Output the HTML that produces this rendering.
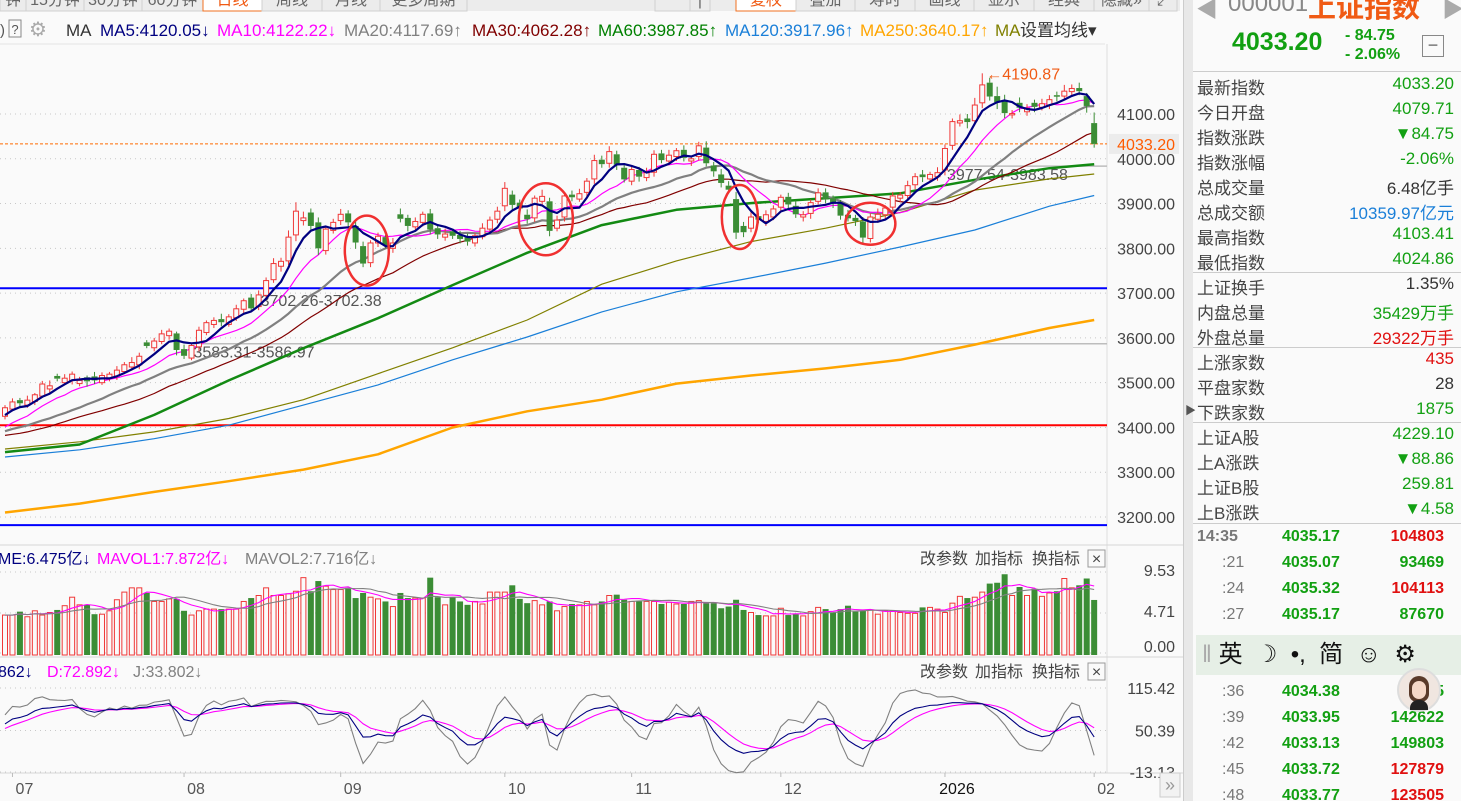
<!DOCTYPE html>
<html><head><meta charset="utf-8">
<style>
html,body{margin:0;padding:0;background:#fafafa;width:1461px;height:801px;overflow:hidden;font-family:"Liberation Sans","Noto Sans CJK SC",sans-serif;}
#root{position:relative;width:1461px;height:801px;}
svg{position:absolute;left:0;top:0;}
.rp{position:absolute;left:1192px;top:0;width:269px;height:801px;background:#fafafa;}
.row{position:absolute;left:5px;width:257px;height:24px;font-size:17px;color:#444;}
.row .v{position:absolute;right:0;top:0;}
.sep{position:absolute;left:0;width:269px;height:1px;background:#ccc;}
.tk{position:absolute;left:5px;width:255px;height:25px;font-size:16px;font-weight:bold;}
.tk .t{position:absolute;left:0;color:#777;font-weight:normal;}
.tk .p{position:absolute;left:85px;color:#12a012;}
.tk .q{position:absolute;right:8px;}
</style></head>
<body><div id="root">
<svg id="chart" width="1190" height="801"></svg>

<div class="rp">
  <div style="position:absolute;left:4px;top:-8px;font-size:22px;color:#aaa">◀</div>
  <div style="position:absolute;left:36px;top:-10px;font-size:24px;color:#888">000001</div>
  <div style="position:absolute;left:116px;top:-14px;font-size:28px;font-weight:bold;color:#f05a14">上证指数</div>
  <div style="position:absolute;left:250px;top:-8px;font-size:22px;color:#aaa">▶</div>
  <div style="position:absolute;left:40px;top:28px;font-size:25px;font-weight:bold;color:#12a012">4033.20</div>
  <div style="position:absolute;left:153px;top:26px;font-size:16px;font-weight:bold;color:#12a012;line-height:19px">- 84.75<br>- 2.06%</div>
  <div style="position:absolute;left:230px;top:35px;width:20px;height:20px;border:1px solid #888;text-align:center;line-height:18px;color:#666;font-size:18px">−</div>
  <div class="sep" style="top:71px"></div>
  <div class="row" style="top:74px">最新指数<span class="v" style="color:#12a012">4033.20</span></div>
  <div class="row" style="top:99px">今日开盘<span class="v" style="color:#12a012">4079.71</span></div>
  <div class="row" style="top:124px">指数涨跌<span class="v" style="color:#12a012">▼84.75</span></div>
  <div class="row" style="top:149px">指数涨幅<span class="v" style="color:#12a012">-2.06%</span></div>
  <div class="row" style="top:174px">总成交量<span class="v" style="color:#333">6.48亿手</span></div>
  <div class="row" style="top:199px">总成交额<span class="v" style="color:#1a7fd8">10359.97亿元</span></div>
  <div class="row" style="top:224px">最高指数<span class="v" style="color:#12a012">4103.41</span></div>
  <div class="row" style="top:249px">最低指数<span class="v" style="color:#12a012">4024.86</span></div>
  <div class="sep" style="top:272px"></div>
  <div class="row" style="top:274px">上证换手<span class="v" style="color:#333">1.35%</span></div>
  <div class="row" style="top:299px">内盘总量<span class="v" style="color:#12a012">35429万手</span></div>
  <div class="row" style="top:324px">外盘总量<span class="v" style="color:#e01010">29322万手</span></div>
  <div class="sep" style="top:347px"></div>
  <div class="row" style="top:349px">上涨家数<span class="v" style="color:#e01010">435</span></div>
  <div class="row" style="top:374px">平盘家数<span class="v" style="color:#333">28</span></div>
  <div class="row" style="top:399px">下跌家数<span class="v" style="color:#12a012">1875</span></div>
  <div class="sep" style="top:422px"></div>
  <div class="row" style="top:424px">上证A股<span class="v" style="color:#12a012">4229.10</span></div>
  <div class="row" style="top:449px">上A涨跌<span class="v" style="color:#12a012">▼88.86</span></div>
  <div class="row" style="top:474px">上证B股<span class="v" style="color:#12a012">259.81</span></div>
  <div class="row" style="top:499px">上B涨跌<span class="v" style="color:#12a012">▼4.58</span></div>
  <div class="sep" style="top:523px"></div>
  <div class="tk" style="top:528px"><span class="t" style="font-weight:bold">14:35</span><span class="p">4035.17</span><span class="q" style="color:#e01010">104803</span></div>
  <div class="tk" style="top:554px"><span class="t" style="left:25px">:21</span><span class="p">4035.07</span><span class="q" style="color:#12a012">93469</span></div>
  <div class="tk" style="top:580px"><span class="t" style="left:25px">:24</span><span class="p">4035.32</span><span class="q" style="color:#e01010">104113</span></div>
  <div class="tk" style="top:606px"><span class="t" style="left:25px">:27</span><span class="p">4035.17</span><span class="q" style="color:#12a012">87670</span></div>
  <div class="tk" style="top:683px"><span class="t" style="left:25px">:36</span><span class="p">4034.38</span><span class="q" style="color:#12a012">5</span></div>
  <div class="tk" style="top:709px"><span class="t" style="left:25px">:39</span><span class="p">4033.95</span><span class="q" style="color:#12a012">142622</span></div>
  <div class="tk" style="top:735px"><span class="t" style="left:25px">:42</span><span class="p">4033.13</span><span class="q" style="color:#12a012">149803</span></div>
  <div class="tk" style="top:761px"><span class="t" style="left:25px">:45</span><span class="p">4033.72</span><span class="q" style="color:#e01010">127879</span></div>
  <div class="tk" style="top:787px"><span class="t" style="left:25px">:48</span><span class="p">4033.77</span><span class="q" style="color:#e01010">123505</span></div>
  <div style="position:absolute;left:4px;top:635px;width:265px;height:40px;background:#e6efe6;font-size:24px;color:#111;line-height:40px;white-space:nowrap"><span style="color:#aaa;margin-left:6px">‖</span> 英 &nbsp;☽ &nbsp;•, &nbsp;简 &nbsp;☺ &nbsp;⚙</div>
  <div style="position:absolute;left:205px;top:668px;width:40px;height:40px;border-radius:50%;background:#f0e6e0;border:2px solid #ddd"><div style="position:absolute;left:10px;top:6px;width:20px;height:26px;border-radius:10px 10px 8px 8px;background:#5a3a2a"></div><div style="position:absolute;left:13px;top:11px;width:14px;height:18px;border-radius:7px;background:#f6d8c8"></div><div style="position:absolute;left:11px;top:30px;width:18px;height:10px;border-radius:8px 8px 0 0;background:#222"></div></div>
</div>
<div style="position:absolute;left:1183px;top:0;width:9px;height:801px;background:#e8e8e8;border-left:1px solid #ccc"><div style="position:absolute;left:1px;top:402px;font-size:11px;color:#555">▶</div></div>

<script>
// ---- data ----
const preCloses = [3380,3390,3370,3348,3380,3361,3347,3363,3347,3348,3357,3376,3381,3361,3385,3402,3384,3402,3388,3388,3362,3377,3388,3359,3386,3402,3420,3448,3424];
const closes = [3444,3457,3454,3461,3473,3497,3493,3509,3510,3519,
3505,3503,3505,3516,3519,3528,3540,3545,3559,3582,
3593,3609,3615,3573,3560,3583,3617,3634,3639,3635,
3647,3665,3683,3666,3696,3728,3766,3771,3825,3883,
3868,3850,3800,3843,3858,3876,3858,3813,3766,3812,
3827,3807,3812,3866,3850,3860,3876,3842,3831,3832,
3828,3821,3815,3828,3845,3863,3883,3934,3897,3889,
3865,3912,3916,3839,3863,3917,3914,3922,3950,3996,
3988,4016,3987,3954,3976,3960,3969,4010,3997,4008,
4018,4002,4000,4029,3990,3972,3946,3931,3835,3836,
3870,3864,3875,3888,3914,3898,3876,3875,3902,3924,
3909,3900,3873,3867,3861,3824,3870,3876,3890,3917,
3919,3940,3960,3959,3965,3969,4023,4083,4085,4082,
4120,4165,4139,4126,4102,4101,4114,4113,4116,4123,
4132,4139,4151,4157,4151,4118,4033.2];
const opens = [3425,3441,3461,3450,3458,3470,3486,3515,3500,3505,
3498,3512,3514,3500,3510,3515,3525,3535,3540,3590,
3578,3592,3605,3610,3575,3555,3580,3612,3630,3642,
3630,3645,3664,3690,3670,3695,3730,3760,3772,3830,
3862,3880,3858,3795,3840,3862,3878,3850,3805,3768,
3812,3825,3800,3876,3868,3848,3858,3878,3845,3825,
3838,3830,3826,3812,3826,3843,3865,3895,3920,3902,
3875,3868,3905,3905,3845,3870,3920,3910,3925,3955,
3998,3990,4010,3980,3950,3975,3958,3970,4012,3995,
4005,4020,3995,4005,4025,3985,3965,3940,3910,3850,
3845,3872,3860,3870,3892,3915,3895,3870,3878,3905,
3925,3912,3900,3875,3868,3860,3822,3865,3875,3892,
3912,3918,3942,3965,3955,3960,3975,4030,4080,4090,
4085,4125,4170,4140,4130,4098,4125,4105,4125,4115,
4120,4142,4140,4150,4158,4140,4079.71];
const wickUp = [6,8,5,10,4,7,12,5,9,6, 8,4,10,7,5,9,6,12,8,5, 7,9,6,4,10,6,8,5,7,12, 6,9,5,8,10,7,12,8,15,20,
14,9,11,6,8,12,7,9,10,6, 8,5,11,13,7,9,6,10,8,12, 5,9,7,6,11,8,10,14,9,7, 12,6,15,8,10,6,9,11,7,13,
9,12,8,6,10,7,11,9,8,12, 6,10,7,9,14,8,12,10,16,9, 11,7,10,8,6,9,12,8,7,10, 9,6,8,11,7,10,8,13,6,9,
7,11,8,10,6,12,9,7,14,10, 16,25.87,11,21,13,8,12,9,7,11, 10,8,14,9,12,7,23.7];
const wickDn = [7,5,9,6,8,4,10,6,5,9, 6,12,8,5,7,9,6,8,10,5, 8,6,9,12,7,5,10,6,8,9, 5,7,9,6,8,10,7,12,9,14,
11,8,15,9,7,10,12,14,8,10, 9,7,10,8,12,6,9,11,10,8, 7,10,9,8,6,11,9,12,10,8, 10,9,8,12,7,10,9,6,8,11,
8,10,12,7,9,11,8,10,7,9, 10,8,11,9,7,12,10,8,14,11, 9,8,10,7,11,9,8,10,12,7, 8,10,9,7,11,13,9,8,10,7,
9,8,10,11,7,9,12,10,8,14, 10,12,9,15,11,8,10,9,12,7, 9,11,8,10,9,15,8.35];
const volumes = [4.7,4.7,5.1,4.5,5.2,4.7,5.0,5.3,5.8,6.8, 5.9,5.9,4.8,4.8,5.2,6.5,7.4,7.9,7.9,7.3,
6.3,6.3,6.6,6.6,5.2,4.7,5.2,5.4,5.4,5.4, 5.4,5.4,6.3,6.7,7.0,7.9,7.0,7.0,7.2,7.5,
9.1,7.5,8.7,8.1,7.7,7.7,7.9,6.7,7.3,6.8, 6.6,6.3,5.7,7.3,6.7,6.7,6.7,9.1,6.8,5.9,
6.8,6.3,5.9,6.3,6.0,7.4,7.4,7.4,8.2,6.6, 6.1,6.4,5.9,6.3,5.2,5.7,6.0,5.9,6.3,5.9,
6.3,7.0,7.1,6.5,6.3,6.3,6.3,6.3,6.0,6.2, 6.0,6.0,6.3,6.4,6.1,6.1,5.5,5.7,6.5,5.3,
5.0,4.7,4.6,4.6,5.5,4.7,4.8,4.6,5.1,5.6, 5.4,5.0,5.4,5.8,5.1,5.2,5.3,4.8,5.2,5.2,
5.0,4.9,4.9,5.6,5.6,5.4,5.0,6.1,6.9,6.7, 6.8,7.4,8.4,8.5,9.5,7.0,8.0,7.0,7.8,6.9,
7.3,7.5,9.0,7.9,8.2,9.0,6.475];
// sparse long moving averages (value every 10 sessions + last)
const longIdx = [0,10,20,30,40,50,60,70,80,90,100,110,120,130,140,146];
const ma60 = [3345,3362,3428,3505,3577,3644,3718,3790,3852,3886,3901,3912,3923,3953,3979,3988];
const ma90 = [3352,3368,3390,3420,3462,3520,3578,3640,3720,3772,3815,3845,3880,3930,3955,3966];
const ma120 = [3334,3350,3375,3405,3450,3495,3551,3602,3658,3703,3734,3767,3803,3841,3894,3918];
const ma250 = [3210,3230,3256,3280,3306,3340,3400,3436,3462,3498,3516,3532,3551,3585,3622,3640];
const priceTicks = [4100,4000,3900,3800,3700,3600,3500,3400,3300,3200];
const drawnLines = [3711,3405,3182];
const drawnLineColors = ['#0000ff','#ff0000','#0000ff'];
const gapLabels = ['3702.26-3702.38','3583.31-3586.97','3977.54-3983.58'];
const gapPrices = [3702.3,3586.97,3983.58];
const gapStartIdx = [34,25,126];
const monthLabels = ['07','08','09','10','11','12','2026','02'];
const monthIdx = [1,24,45,67,84,104,126,146];
const circleIdx = [48.5,72.5,98.5,116];
const circlePrice = [3795,3865,3870,3855];
const volTicks = [9.53,4.71,0.00];
const kdjTicks = [115.42,50.39,-13.13];

// ---- scales ----
const X = i => 5 + i*7.46;
const YP = p => 114 + (4100-p)*0.4478;
const YV = v => 655 - v*8.5;
const YK = k => 688 + (115.42-k)*0.653;
const RED='#f03838', GRN='#3b8d35';
const svg = document.getElementById('chart');
const NS='http://www.w3.org/2000/svg';
function mk(tag, attrs, parent){const e=document.createElementNS(NS,tag);for(const k in attrs)e.setAttribute(k,attrs[k]);(parent||svg).appendChild(e);return e;}
function txt(x,y,s,size,fill,anchor,parent){const t=mk('text',{x:x,y:y,'font-size':size,fill:fill,'text-anchor':anchor||'start','font-family':'"Liberation Sans","Noto Sans CJK SC",sans-serif'},parent);t.textContent=s;return t;}

let e;
e=mk('rect',{x:0,y:0,width:1183,height:801,fill:'#fafafa'});


e=mk('rect',{x:0,y:0,width:1180,height:11,fill:'#ececec'});


const tabs=[['钟',0,26],['15分钟',26,84],['30分钟',84,142],['60分钟',142,203],['日线',203,262],['周线',262,322],['月线',322,380],['更多周期',380,467],
['',655,690],['|',690,710],['复权',736,796],['叠加',796,855],['寿时',855,915],['画线',915,974],['显示',974,1034],['经典',1034,1094],['隐藏»',1094,1149],['⤢',1149,1177]];
tabs.forEach(t=>{
  const act=(t[0]==='日线'||t[0]==='复权');
  const g=mk('g',{});
  
  
  mk('rect',{x:t[1],y:-2,width:t[2]-t[1],height:13,fill:act?'#fff':'#ececec',stroke:act?'#f07020':'#d0d0d0','stroke-width':1},g);
  txt((t[1]+t[2])/2,5,t[0],16,act?'#f05a14':'#666','middle',g);
});
e=mk('line',{x1:0,y1:44,x2:1105,y2:44,stroke:'#e4e4e4'});


// MA legend
const lg=mk('g',{});


txt(0,35,')',15,'#555','start',lg);
mk('rect',{x:9,y:20,width:12,height:17,fill:'none',stroke:'#888'},lg);
txt(15,34,'?',13,'#555','middle',lg);
txt(38,36,'⚙',20,'#aaa','middle',lg);
const legItems=[['MA','#333'],['MA5:4120.05↓','#000080'],['MA10:4122.22↓','#ff00ff'],['MA20:4117.69↑','#808080'],['MA30:4062.28↑','#800000'],['MA60:3987.85↑','#008000'],['MA120:3917.96↑','#1a7fd8'],['MA250:3640.17↑','#ffa500']];
const legX=[66,100,217,344,472,598,725,860];
legItems.forEach((m,i)=>{const t=txt(legX[i],36,m[0],17,m[1],'start',lg);});
txt(995,36,'MA',17,'#808000','start',lg);
e=txt(1020,36,'设置均线▾',17,'#333','start',lg);



e=mk('line',{x1:1107,y1:44,x2:1107,y2:773,stroke:'#ddd'});


[545,657,773].forEach(y=>{e=mk('line',{x1:0,y1:y,x2:1183,y2:y,stroke:'#d6d6d6'});

});

priceTicks.forEach(p=>{
  e=mk('line',{x1:0,y1:YP(p),x2:1107,y2:YP(p),stroke:'#c8c8c8','stroke-dasharray':'1,4'});
  
  
  e=txt(1175,YP(p)+6,p.toFixed(2),16,'#444','end');
  
  
});
drawnLines.forEach((p,i)=>{e=mk('line',{x1:0,y1:YP(p),x2:1107,y2:YP(p),stroke:drawnLineColors[i],'stroke-width':2});

});
gapPrices.forEach((p,i)=>{
  if(i!==0){e=mk('line',{x1:X(gapStartIdx[i]),y1:YP(p),x2:1107,y2:YP(p),stroke:'#bdbdbd','stroke-width':1.5});
  
  }
  e=txt(X(gapStartIdx[i])+2,YP(p)+14,gapLabels[i],16,'#555');
  
  
});
const last=closes[closes.length-1];
e=mk('line',{x1:0,y1:YP(last),x2:1107,y2:YP(last),stroke:'#ff6a00','stroke-dasharray':'3,2'});


e=mk('rect',{x:1109,y:YP(last)-10,width:70,height:20,fill:'#ececec'});


txt(1175,YP(last)+6,last.toFixed(2),16,'#ff5a00','end');

const all=preCloses.concat(closes), off=preCloses.length;
function ma(n){return closes.map((c,i)=>{let s=0;for(let k=0;k<n;k++)s+=all[off+i-k];return s/n;});}
function poly(vals,idx,color,w,name){
  const pts=vals.map((v,j)=>X(idx?idx[j]:j).toFixed(1)+','+YP(v).toFixed(1)).join(' ');
  const p=mk('polyline',{points:pts,fill:'none',stroke:color,'stroke-width':w,'stroke-linejoin':'round'});
  
  
}
poly(ma250,longIdx,'#ffa500',2.5,'ma250-line');
poly(ma120,longIdx,'#1a7fd8',1.2,'ma120-line');
poly(ma90,longIdx,'#808000',1.2,'ma90-line');
poly(ma60,longIdx,'#138a13',2.5,'ma60-line');
poly(ma(30),null,'#800000',1.2,'ma30-line');
poly(ma(20),null,'#808080',2.2,'ma20-line');
poly(ma(10),null,'#ff00ff',1.2,'ma10-line');

const hi=closes.map((c,i)=>Math.max(c,opens[i])+wickUp[i]);
const lo=closes.map((c,i)=>Math.min(c,opens[i])-wickDn[i]);
closes.forEach((c,i)=>{
  const o=opens[i], up=c>=o, col=up?RED:GRN, x=X(i);
  const g=mk('g',{});
  
  
  const top=YP(Math.max(o,c)), bot=YP(Math.min(o,c));
  mk('line',{x1:x,y1:YP(hi[i]),x2:x,y2:top,stroke:col},g);
  mk('line',{x1:x,y1:bot,x2:x,y2:YP(lo[i]),stroke:col},g);
  if(up) mk('rect',{x:x-2.5,y:top,width:5,height:Math.max(bot-top,1),fill:'#fafafa',stroke:col},g);
  else mk('rect',{x:x-3,y:top,width:6,height:Math.max(bot-top,1.5),fill:col},g);
});
poly(ma(5),null,'#000080',2.2,'ma5-line');

let hiI=0;hi.forEach((h,i)=>{if(h>hi[hiI])hiI=i;});
e=txt(X(hiI)+4,YP(hi[hiI])+6,'←'+hi[hiI].toFixed(2),16,'#f05a14');



circleIdx.forEach((ci,k)=>{
  const rx=[22,27,18,25][k], ry=[35,36,32,21][k];
  e=mk('ellipse',{cx:X(ci),cy:YP(circlePrice[k]),rx:rx,ry:ry,fill:'none',stroke:'#f03030','stroke-width':2.5});
  
  
});

// ---- volume panel ----
volTicks.forEach(v=>{
  e=mk('line',{x1:0,y1:YV(v)-2,x2:1107,y2:YV(v)-2,stroke:'#c8c8c8','stroke-dasharray':'1,4'});
  
  
  e=txt(1175,YV(v)-(v===0?3:-2),v.toFixed(2),16,'#444','end');
  
  
});
volumes.forEach((v,i)=>{
  const up=closes[i]>=opens[i], x=X(i);
  const r=mk('rect',up?{x:x-2.5,y:YV(v),width:5,height:v*8.5,fill:'#fafafa',stroke:RED}:{x:x-3,y:YV(v),width:6,height:v*8.5,fill:GRN});
  
  
});
function vma(n){return volumes.map((v,i)=>{let s=0,c=0;for(let k=0;k<n&&i-k>=0;k++){s+=volumes[i-k];c++;}return s/c;});}
[[vma(5),'#ff00ff','mavol1-line'],[vma(10),'#808080','mavol2-line']].forEach(a=>{
  const p=mk('polyline',{points:a[0].map((v,i)=>X(i)+','+YV(v)).join(' '),fill:'none',stroke:a[1],'stroke-width':1.1});
  
  
});
const vl=mk('g',{});


txt(-2,564,'ME:6.475亿↓',16,'#000080','start',vl);
txt(97,564,'MAVOL1:7.872亿↓',16,'#ff00ff','start',vl);
txt(245,564,'MAVOL2:7.716亿↓',16,'#808080','start',vl);

// ---- KDJ panel ----
const K=[],D=[],J=[];let k0=50,d0=50;
closes.forEach((c,i)=>{let h=-1e9,l=1e9;for(let j=Math.max(0,i-8);j<=i;j++){h=Math.max(h,hi[j]);l=Math.min(l,lo[j]);}
  const rsv=h===l?50:(c-l)/(h-l)*100;k0=(2*k0+rsv)/3;d0=(2*d0+k0)/3;K.push(k0);D.push(d0);J.push(3*k0-2*d0);});
kdjTicks.forEach(v=>{
  e=mk('line',{x1:0,y1:YK(v),x2:1107,y2:YK(v),stroke:'#c8c8c8','stroke-dasharray':'1,4'});
  
  
  e=txt(1175,YK(v)+6,v.toFixed(2),16,'#444','end');
  
  
});
[[J,'#808080','kdj-j-line'],[D,'#ff00ff','kdj-d-line'],[K,'#000080','kdj-k-line']].forEach(a=>{
  const p=mk('polyline',{points:a[0].map((v,i)=>X(i)+','+YK(v)).join(' '),fill:'none',stroke:a[1],'stroke-width':1.1});
  
  
});
const kl=mk('g',{});


txt(-2,677,'862↓',16,'#000080','start',kl);
txt(47,677,'D:72.892↓',16,'#ff00ff','start',kl);
txt(133,677,'J:33.802↓',16,'#808080','start',kl);

[564,677].forEach(y=>{
  [['改参数',920],['加指标',975],['换指标',1032]].forEach(b=>{
    e=txt(b[1],y,b[0],16,'#444');
    
    
  });
  const g=mk('g',{});
  
  
  mk('rect',{x:1088,y:y-14,width:17,height:17,fill:'#fafafa',stroke:'#999'},g);
  txt(1096.5,y,'×',16,'#444','middle',g);
});

monthLabels.forEach((m,i)=>{
  const x=X(monthIdx[i]);
  e=mk('line',{x1:x,y1:773,x2:x,y2:777,stroke:'#bbb'});
  
  
  e=txt(x+12,794,m,16,m==='2026'?'#111':'#555','middle');
  
  
});
const nb=mk('g',{});


mk('rect',{x:1160,y:773,width:20,height:24,fill:'#f2f2f2',stroke:'#ccc'},nb);
txt(1170,791,'»',18,'#999','middle',nb);
</script>
</div></body></html>
